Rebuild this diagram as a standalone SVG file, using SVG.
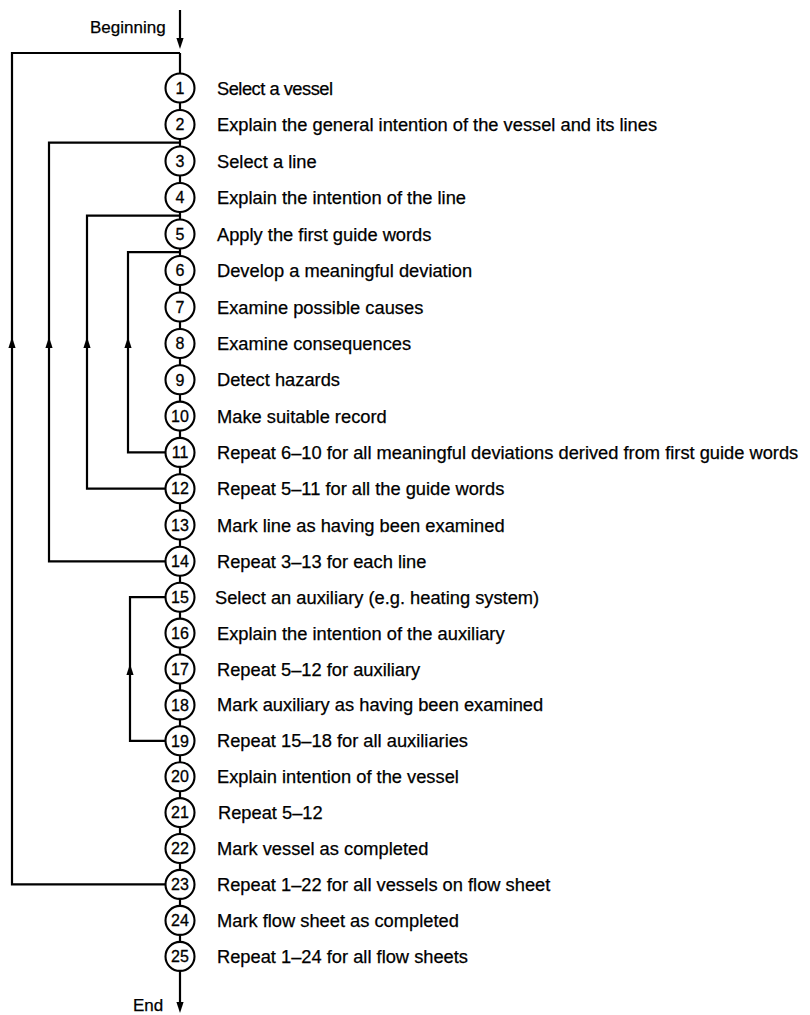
<svg xmlns="http://www.w3.org/2000/svg" xmlns:xlink="http://www.w3.org/1999/xlink" width="810" height="1015" viewBox="0 0 810 1015">
  <style>
    .wire { fill: none; stroke: #000; stroke-width: 2.2; stroke-linejoin: miter; }
    .step circle { fill: #fff; stroke: #000; stroke-width: 2.1; }
    .num { font-family: "Liberation Sans", Arial, sans-serif; font-size: 16px; text-anchor: middle; fill: #000; stroke: #000; stroke-width: 0.3; }
    .lbl { font-family: "Liberation Sans", Arial, sans-serif; font-size: 18.3px; fill: #000; stroke: #000; stroke-width: 0.25; }
    .term { font-family: "Liberation Sans", Arial, sans-serif; font-size: 17px; fill: #000; stroke: #000; stroke-width: 0.25; }
    .head { fill: #000; }
  </style>
  <defs>
    <!-- upward arrowhead, tip at origin -->
    <path id="up" d="M0,0 L-3.6,11 L3.6,11 Z"/>
    <!-- downward arrowhead, tip at origin -->
    <path id="down" d="M0,0 L-3.6,-11 L3.6,-11 Z"/>
  </defs>

  <!-- connectors -->
  <g id="connectors">
    <!-- entry arrow -->
    <line class="wire" x1="180" y1="10" x2="180" y2="42"/>
    <use xlink:href="#down" class="head" x="180" y="49"/>
    <!-- main spine through all steps -->
    <line class="wire" x1="180" y1="53" x2="180" y2="1004"/>
    <use xlink:href="#down" class="head" x="180" y="1013"/>
    <!-- loop: repeat 1-22 for all vessels -->
    <polyline class="wire" points="166,884.4 12,884.4 12,53 180,53"/>
    <use xlink:href="#up" class="head" x="12" y="337"/>
    <!-- loop: repeat 3-13 for each line -->
    <polyline class="wire" points="166,561.3 49,561.3 49,142.7 180,142.7"/>
    <use xlink:href="#up" class="head" x="49" y="337"/>
    <!-- loop: repeat 5-11 for all guide words -->
    <polyline class="wire" points="166,488.7 87,488.7 87,215.7 180,215.7"/>
    <use xlink:href="#up" class="head" x="87" y="337"/>
    <!-- loop: repeat 6-10 for all deviations -->
    <polyline class="wire" points="166,452.4 128,452.4 128,252.2 180,252.2"/>
    <use xlink:href="#up" class="head" x="128" y="337"/>
    <!-- loop: repeat 15-18 for all auxiliaries -->
    <polyline class="wire" points="166,740.8 130,740.8 130,597.2 166,597.2"/>
    <use xlink:href="#up" class="head" x="130" y="664"/>
  </g>

  <!-- terminal labels -->
  <g id="start"><text class="term" x="90" y="33">Beginning</text></g>
  <g id="finish"><text class="term" x="133" y="1011">End</text></g>

  <!-- steps -->
  <g id="s1" class="step"><circle cx="180" cy="88" r="14.5"/><text class="num" x="180" y="93.7">1</text><text class="lbl" x="217" y="94.5" textLength="116" lengthAdjust="spacing">Select a vessel</text></g>
  <g id="s2" class="step"><circle cx="180" cy="124.5" r="14.5"/><text class="num" x="180" y="130.2">2</text><text class="lbl" x="217" y="131">Explain the general intention of the vessel and its lines</text></g>
  <g id="s3" class="step"><circle cx="180" cy="161" r="14.5"/><text class="num" x="180" y="166.7">3</text><text class="lbl" x="217" y="167.5">Select a line</text></g>
  <g id="s4" class="step"><circle cx="180" cy="197.5" r="14.5"/><text class="num" x="180" y="203.2">4</text><text class="lbl" x="217" y="204">Explain the intention of the line</text></g>
  <g id="s5" class="step"><circle cx="180" cy="234" r="14.5"/><text class="num" x="180" y="239.7">5</text><text class="lbl" x="217" y="240.5">Apply the first guide words</text></g>
  <g id="s6" class="step"><circle cx="180" cy="270.5" r="14.5"/><text class="num" x="180" y="276.2">6</text><text class="lbl" x="217" y="277">Develop a meaningful deviation</text></g>
  <g id="s7" class="step"><circle cx="180" cy="307" r="14.5"/><text class="num" x="180" y="312.7">7</text><text class="lbl" x="217" y="313.5">Examine possible causes</text></g>
  <g id="s8" class="step"><circle cx="180" cy="343.5" r="14.5"/><text class="num" x="180" y="349.2">8</text><text class="lbl" x="217" y="350">Examine consequences</text></g>
  <g id="s9" class="step"><circle cx="180" cy="379.8" r="14.5"/><text class="num" x="180" y="385.5">9</text><text class="lbl" x="217" y="386.3">Detect hazards</text></g>
  <g id="s10" class="step"><circle cx="180" cy="416.1" r="14.5"/><text class="num" x="180" y="421.8">10</text><text class="lbl" x="217" y="422.6">Make suitable record</text></g>
  <g id="s11" class="step"><circle cx="180" cy="452.4" r="14.5"/><text class="num" x="180" y="458.1">11</text><text class="lbl" x="217" y="458.9">Repeat 6–10 for all meaningful deviations derived from first guide words</text></g>
  <g id="s12" class="step"><circle cx="180" cy="488.7" r="14.5"/><text class="num" x="180" y="494.4">12</text><text class="lbl" x="217" y="495.2">Repeat 5–11 for all the guide words</text></g>
  <g id="s13" class="step"><circle cx="180" cy="525" r="14.5"/><text class="num" x="180" y="530.7">13</text><text class="lbl" x="217" y="531.5">Mark line as having been examined</text></g>
  <g id="s14" class="step"><circle cx="180" cy="561.3" r="14.5"/><text class="num" x="180" y="567">14</text><text class="lbl" x="217" y="567.8">Repeat 3–13 for each line</text></g>
  <g id="s15" class="step"><circle cx="180" cy="597.2" r="14.5"/><text class="num" x="180" y="602.9">15</text><text class="lbl" x="215" y="603.7">Select an auxiliary (e.g. heating system)</text></g>
  <g id="s16" class="step"><circle cx="180" cy="633.1" r="14.5"/><text class="num" x="180" y="638.8">16</text><text class="lbl" x="217" y="639.6">Explain the intention of the auxiliary</text></g>
  <g id="s17" class="step"><circle cx="180" cy="669" r="14.5"/><text class="num" x="180" y="674.7">17</text><text class="lbl" x="217" y="675.5">Repeat 5–12 for auxiliary</text></g>
  <g id="s18" class="step"><circle cx="180" cy="704.9" r="14.5"/><text class="num" x="180" y="710.6">18</text><text class="lbl" x="217" y="711.4">Mark auxiliary as having been examined</text></g>
  <g id="s19" class="step"><circle cx="180" cy="740.8" r="14.5"/><text class="num" x="180" y="746.5">19</text><text class="lbl" x="217" y="747.3">Repeat 15–18 for all auxiliaries</text></g>
  <g id="s20" class="step"><circle cx="180" cy="776.7" r="14.5"/><text class="num" x="180" y="782.4">20</text><text class="lbl" x="217" y="783.2">Explain intention of the vessel</text></g>
  <g id="s21" class="step"><circle cx="180" cy="812.6" r="14.5"/><text class="num" x="180" y="818.3">21</text><text class="lbl" x="218" y="819.1">Repeat 5–12</text></g>
  <g id="s22" class="step"><circle cx="180" cy="848.5" r="14.5"/><text class="num" x="180" y="854.2">22</text><text class="lbl" x="217" y="855">Mark vessel as completed</text></g>
  <g id="s23" class="step"><circle cx="180" cy="884.4" r="14.5"/><text class="num" x="180" y="890.1">23</text><text class="lbl" x="217" y="890.9">Repeat 1–22 for all vessels on flow sheet</text></g>
  <g id="s24" class="step"><circle cx="180" cy="920.4" r="14.5"/><text class="num" x="180" y="926.1">24</text><text class="lbl" x="217" y="926.9">Mark flow sheet as completed</text></g>
  <g id="s25" class="step"><circle cx="180" cy="956.4" r="14.5"/><text class="num" x="180" y="962.1">25</text><text class="lbl" x="217" y="962.9">Repeat 1–24 for all flow sheets</text></g>
</svg>
